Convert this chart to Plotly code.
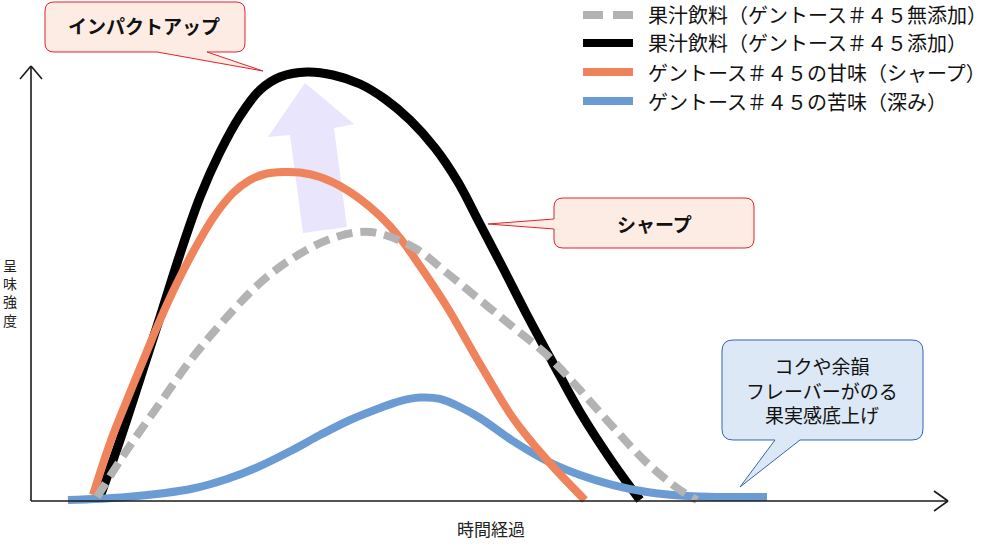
import plotly.graph_objects as go

W, H = 989, 555
FONT = "Noto Sans CJK JP"

# ---------------- data (time: 0-100, taste intensity: 0-100) ----------------
names = [
    "果汁飲料（ゲントース＃４５無添加）",
    "果汁飲料（ゲントース＃４５添加）",
    "ゲントース＃４５の甘味（シャープ）",
    "ゲントース＃４５の苦味（深み）",
]

t_gray = [7.20, 10.47, 14.07, 17.67, 21.37, 24.97, 28.57, 32.93, 36.97, 41.66, 45.37,
          48.96, 52.56, 56.27, 59.87, 63.47, 67.18, 70.77, 72.63]
v_gray = [0.93, 11.83, 22.74, 33.41, 42.69, 50.58, 56.38, 61.02, 62.41, 58.93, 52.90,
          46.64, 40.37, 33.87, 25.75, 17.17, 8.82, 2.55, 0.23]

t_black = [7.52, 9.71, 11.89, 14.07, 16.25, 18.43, 20.61, 22.79, 24.97, 27.15, 30.10,
           32.93, 35.88, 38.60, 41.33, 44.06, 46.56, 48.96, 51.47, 54.09, 56.92, 59.87,
           63.47, 66.41]
v_black = [0.93, 14.15, 28.31, 42.69, 57.31, 70.53, 80.97, 89.33, 95.36, 98.38, 99.54,
           98.84, 96.75, 93.27, 88.40, 81.90, 74.01, 64.27, 54.06, 43.16, 32.02, 20.65,
           8.82, 0.23]

t_orange = [6.76, 8.62, 10.47, 12.43, 14.07, 15.92, 17.67, 19.85, 22.03, 23.88, 25.52,
            27.48, 29.33, 31.52, 33.70, 35.88, 38.06, 40.24, 42.42, 45.37, 48.96, 52.56,
            56.27, 60.41]
v_orange = [1.39, 13.46, 23.43, 33.64, 42.0, 50.58, 57.77, 65.66, 71.46, 74.48, 75.87,
            76.33, 76.22, 75.17, 73.09, 70.07, 66.13, 61.02, 54.52, 45.01, 31.79, 19.26,
            9.51, 0.23]

t_blue = [4.03, 10.47, 17.67, 21.37, 24.97, 28.57, 31.52, 34.79, 38.06, 40.24, 42.42,
          44.60, 46.78, 48.96, 52.56, 56.27, 59.87, 63.47, 67.18, 71.54, 75.14, 80.26]
v_blue = [0.23, 0.93, 2.90, 5.10, 8.10, 11.90, 15.30, 18.79, 21.58, 23.20, 24.00,
          23.70, 21.81, 19.26, 13.92, 9.28, 6.03, 3.71, 2.09, 1.16, 0.93, 0.93]

x_label = "時間経過"
y_label = "呈<br>味<br>強<br>度"
callout_impact = "インパクトアップ"
callout_sharp = "シャープ"
callout_body = ["コクや余韻", "フレーバーがのる", "果実感底上げ"]

# ---------------- styles ----------------
GRAY, BLACK, ORANGE, BLUE = "#B3B3B3", "#000000", "#EF845C", "#6A9BD3"

styles = {
    names[0]: dict(color=GRAY, width=8, dash="16px,8px"),
    names[1]: dict(color=BLACK, width=9, dash="solid"),
    names[2]: dict(color=ORANGE, width=8, dash="solid"),
    names[3]: dict(color=BLUE, width=8, dash="solid"),
}
series = {
    names[0]: (t_gray, v_gray),
    names[1]: (t_black, v_black),
    names[2]: (t_orange, v_orange),
    names[3]: (t_blue, v_blue),
}
draw_order = [names[1], names[3], names[2], names[0]]


def P(x, y):
    """pixel position -> paper fraction"""
    return x / W, 1 - y / H


def fmt(x, y):
    a, b = P(x, y)
    return f"{a:.5f},{b:.5f}"


def callout_path(x0, y0, x1, y1, r, side, b1, b2, tip):
    d = (f"M{fmt(x0 + r, y0)} L{fmt(x1 - r, y0)} Q{fmt(x1, y0)} {fmt(x1, y0 + r)} "
         f"L{fmt(x1, y1 - r)} Q{fmt(x1, y1)} {fmt(x1 - r, y1)} ")
    if side == "bottom":
        d += f"L{fmt(b2, y1)} L{fmt(*tip)} L{fmt(b1, y1)} "
    d += f"L{fmt(x0 + r, y1)} Q{fmt(x0, y1)} {fmt(x0, y1 - r)} "
    if side == "left":
        d += f"L{fmt(x0, b2)} L{fmt(*tip)} L{fmt(x0, b1)} "
    d += f"L{fmt(x0, y0 + r)} Q{fmt(x0, y0)} {fmt(x0 + r, y0)} Z"
    return d


def poly_path(pts):
    return "M" + " L".join(fmt(x, y) for x, y in pts) + " Z"


fig = go.Figure()
for nm in draw_order:
    tx, vy = series[nm]
    st = styles[nm]
    fig.add_trace(go.Scatter(
        x=tx, y=vy, mode="lines", name=nm, showlegend=False, hoverinfo="skip",
        line=dict(color=st["color"], width=st["width"], dash=st["dash"],
                  shape="spline", smoothing=1.0),
    ))

shapes = []
# purple "up" arrow (behind curves)
shapes.append(dict(type="path", xref="paper", yref="paper", layer="below",
                   path=poly_path([(305, 83), (354, 124), (334, 128), (347, 227),
                                   (303, 233), (290, 135), (268, 137)]),
                   fillcolor="#E8E5FC", line=dict(width=0)))

# axes with open arrow heads
ax_line = dict(color="#1A1A1A", width=1.6)
for (xa, ya, xb, yb) in [(31, 501, 948, 501), (31, 501, 31, 66),
                         (934, 491, 948, 501), (934, 511, 948, 501),
                         (20, 79, 31, 66), (42, 79, 31, 66)]:
    a = P(xa, ya)
    b = P(xb, yb)
    shapes.append(dict(type="line", xref="paper", yref="paper", x0=a[0], y0=a[1],
                       x1=b[0], y1=b[1], line=ax_line))

# callouts
shapes.append(dict(type="path", xref="paper", yref="paper",
                   path=callout_path(45, 2, 245, 52, 9, "bottom", 157, 207, (263, 71)),
                   fillcolor="#FDECE4", line=dict(color="#E3212B", width=1)))
shapes.append(dict(type="path", xref="paper", yref="paper",
                   path=callout_path(554, 198, 754, 248, 9, "left", 219, 229, (488, 224)),
                   fillcolor="#FDECE4", line=dict(color="#E3212B", width=1)))
shapes.append(dict(type="path", xref="paper", yref="paper",
                   path=callout_path(722, 340, 923, 440, 11, "bottom", 775, 800, (740, 487)),
                   fillcolor="#DDE8F6", line=dict(color="#3564B2", width=1)))

# manual legend samples
legend_rows = [15, 43, 72, 101]
for nm, yy in zip(names, legend_rows):
    st = styles[nm]
    a = P(583, yy)
    b = P(633, yy)
    shapes.append(dict(type="line", xref="paper", yref="paper", x0=a[0], y0=a[1],
                       x1=b[0], y1=b[1],
                       line=dict(color=st["color"], width=8,
                                 dash="20px,10px" if st["dash"] != "solid" else "solid")))

annotations = []


def ann(text, x, y, size, xanchor="center", color="#111111", bold=False):
    px, py = P(x, y)
    annotations.append(dict(
        text=f"<b>{text}</b>" if bold else text, x=px, y=py, xref="paper", yref="paper",
        xanchor=xanchor, yanchor="middle", showarrow=False, borderpad=0,
        font=dict(family=FONT, size=size, color=color)))


for nm, yy in zip(names, legend_rows):
    ann(nm, 647, yy, 20, xanchor="left")

ann(callout_impact, 144, 26, 19, bold=True)
ann(callout_sharp, 654, 223, 19, bold=True)
ann("<br>".join(callout_body), 822, 390, 19)

ann(x_label, 491, 528, 17, color="#222222")
ann(y_label, 10, 292, 14, color="#222222")

fig.update_layout(
    width=W, height=H, margin=dict(l=0, r=0, t=0, b=0),
    paper_bgcolor="white", plot_bgcolor="white",
    xaxis=dict(range=[-3.381, 104.47], visible=False, fixedrange=True, domain=[0, 1]),
    yaxis=dict(range=[-12.529, 116.24], visible=False, fixedrange=True, domain=[0, 1]),
    shapes=shapes, annotations=annotations, showlegend=False,
)

fig.write_html("out.html", config={"displayModeBar": False},
               post_script="document.body.style.margin='0';")
